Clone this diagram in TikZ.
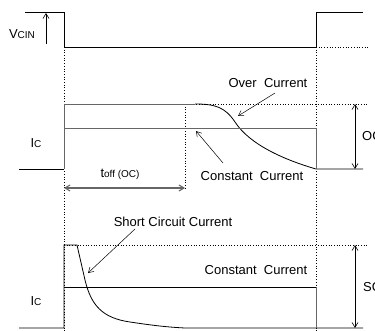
\documentclass[tikz,border=0pt]{standalone}
\usepackage{fontspec}
\setmainfont{Liberation Sans}
\usetikzlibrary{arrows.meta,positioning}

\newcommand{\lowtext}[1]{{\fontsize{10}{11}\selectfont #1}}

\begin{document}
\begin{tikzpicture}[x=1pt, y=-1pt, >={Straight Barb[length=5pt,width=6pt]},
    wave/.style={line width=0.8pt, black},
    level/.style={line width=0.8pt, black!60},
    guide/.style={dotted, line width=0.7pt},
    lbl/.style={font=\fontsize{13}{15}\selectfont, inner sep=0pt},
    note/.style={->, line width=0.5pt},
    span/.style={<->, line width=0.6pt}]
    \useasboundingbox (0,0) rectangle (375,331);
    \clip (0,0) rectangle (375,331);

    % input signal
    \draw [wave] (25,12) -- (64,12) -- (64,47) -- (316,47) -- (316,12) -- (363,12);
    \coordinate (vlow) at (46,44);
    \coordinate (vhigh) at (46,13);
    \draw [->, line width=0.6pt] (vlow) -- (vhigh);
    \node [lbl] (vcin) at (22,34) {V\lowtext{CIN}};

    % guide lines
    \draw [guide] (64,47) -- (64,331);
    \draw [guide] (316,47) -- (316,331);
    \draw [guide] (316,47) -- (369,47);
    \draw [guide] (64,104) -- (369,104);
    \draw [guide] (185,104) -- (185,190);
    \draw [guide] (64,245) -- (369,245);

    % over current
    \draw [wave] (19,169) -- (64,169);
    \draw [level] (64,169) -- (64,104) -- (195,104);
    \draw [wave] (195,104) .. controls (215,104) and (225,107) .. (235,122)
        .. controls (250,145) and (285,160) .. (316,169) -- (363,169);
    \draw [level] (64,128) -- (316,128) -- (316,169);
    \node [lbl] (ocname) at (268,83) {Over\ \ Current};
    \coordinate (octip) at (238,116);
    \draw [note] (275,93) -- (octip);
    \node [lbl] (ccname) at (252,176) {Constant\ \ Current};
    \coordinate (cctip) at (196,131);
    \draw [note] (223,163) -- (cctip);
    \node [lbl] (icoc) at (36,143) {I\lowtext{C}};
    \coordinate (toffa) at (64,188);
    \coordinate (toffb) at (185,188);
    \draw [span, black!60, line width=1.1pt] (toffa) -- (toffb);
    \node [lbl] (toff) at (120,174) {t\lowtext{off (OC)}};
    \coordinate (octop) at (355,104);
    \coordinate (ocbot) at (355,169);
    \draw [span] (octop) -- (ocbot);
    \node [lbl, anchor=west] (oc) at (362,136) {OC};

    % short circuit
    \draw [wave] (19,328) -- (64,328) -- (64,245) -- (77,245) -- (85,280)
        .. controls (91,305) and (102,318) .. (130,322)
        .. controls (150,325) and (165,327) .. (185,328) -- (363,328);
    \draw [wave] (64,287) -- (316,287);
    \draw [level] (316,287) -- (316,328);
    \node [lbl] (scname) at (173,222) {Short Circuit Current};
    \coordinate (sctip) at (88,273);
    \draw [note] (135,229) -- (sctip);
    \node [lbl] (ccsc) at (256,270) {Constant\ \ Current};
    \node [lbl] (icsc) at (36,301) {I\lowtext{C}};
    \coordinate (sctop) at (355,245);
    \coordinate (scbot) at (355,328);
    \draw [span] (sctop) -- (scbot);
    \node [lbl, anchor=west] (sc) at (363,287) {SC};
\end{tikzpicture}
\end{document}
